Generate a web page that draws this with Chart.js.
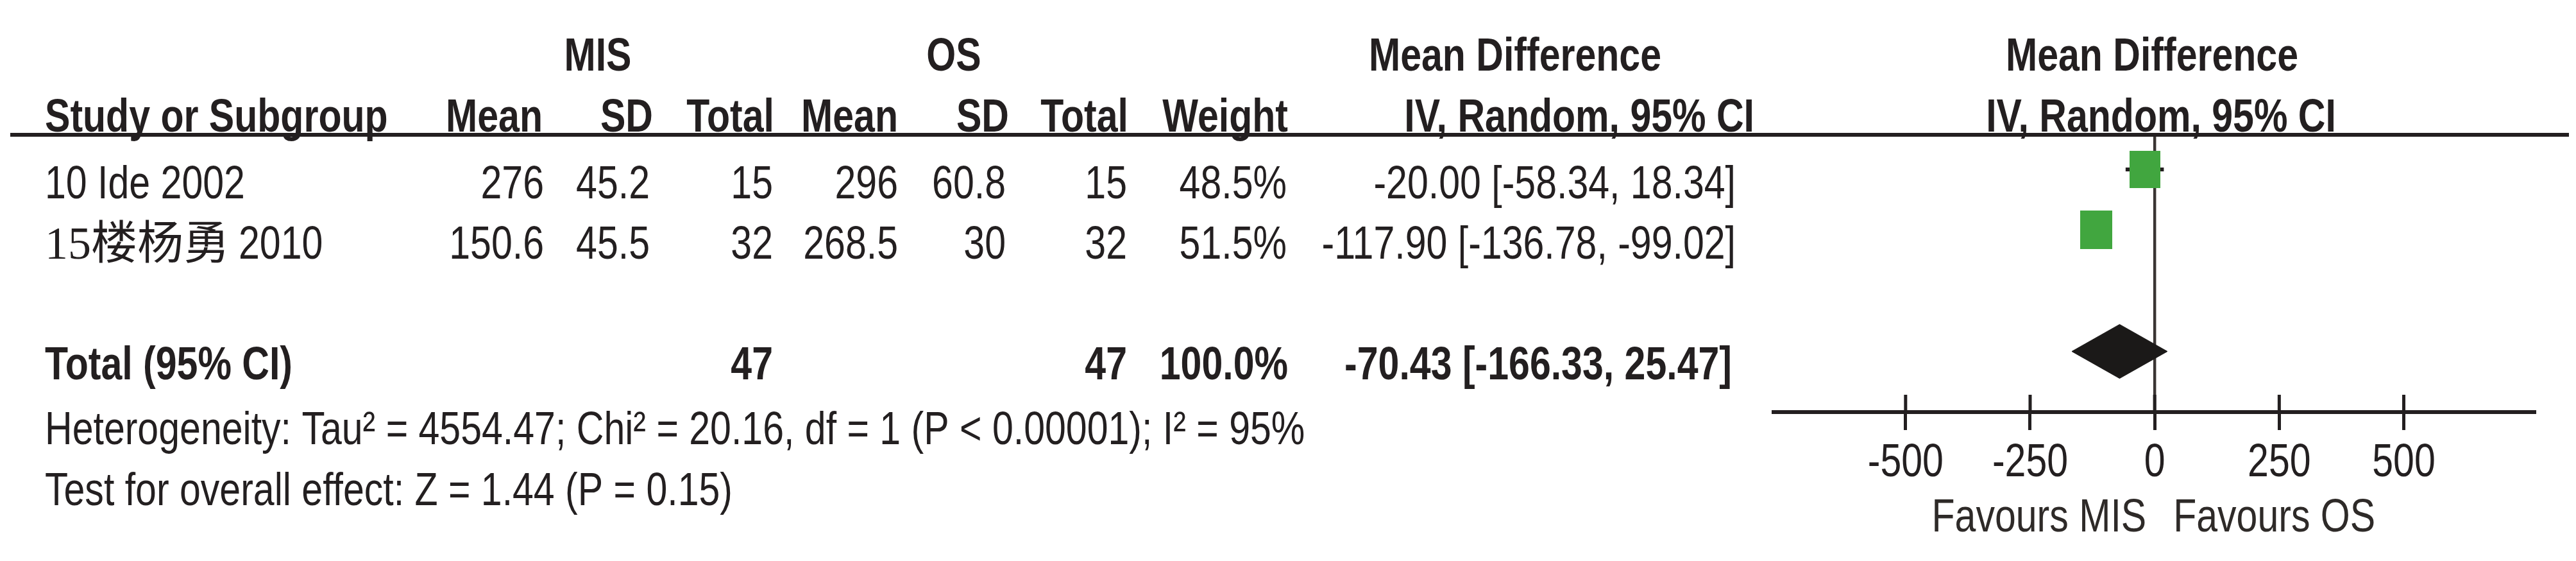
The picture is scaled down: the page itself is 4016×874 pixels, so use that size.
<!DOCTYPE html>
<html>
<head>
<meta charset="utf-8">
<title>Forest plot: MIS vs OS</title>
<script src="https://cdn.jsdelivr.net/npm/chart.js@4.4.1/dist/chart.umd.min.js"></script>
<style>
  html, body { margin: 0; padding: 0; background: #fff; }
  canvas { display: block; }
</style>
</head>
<body>
<canvas id="forest" width="4016" height="874"></canvas>
<script>
// ---- data ----
const studies = ['10 Ide 2002', '15楼杨勇2010'];
const misMean = [276, 150.6];
const misSD = [45.2, 45.5];
const misN = [15, 32];
const osMean = [296, 268.5];
const osSD = [60.8, 30];
const osN = [15, 32];
const weights = [48.5, 51.5];
const md = [-20.00, -117.90];
const ciLow = [-58.34, -136.78];
const ciHigh = [18.34, -99.02];

const totalMisN = 47;
const totalOsN = 47;
const totalWeight = 100.0;
const totalMD = -70.43;
const totalLow = -166.33;
const totalHigh = 25.47;

const tickValues = [-500, -250, 0, 250, 500];
const heterogeneity = 'Heterogeneity: Tau\u00b2 = 4554.47; Chi\u00b2 = 20.16, df = 1 (P < 0.00001); I\u00b2 = 95%';
const overallEffect = 'Test for overall effect: Z = 1.44 (P = 0.15)';
const favours = ['Favours MIS', 'Favours OS'];

// ---- look ----
const INK = '#231f20';
const GREEN = '#41a63f';
const FS = 72;

// narrow Arial look: use Liberation Sans Narrow if it is there, else squeeze Liberation Sans
const narrowOK = (function () {
  const c = document.createElement('canvas').getContext('2d');
  c.font = FS + 'px monospace';
  const a = c.measureText('Study or Subgroup 0123').width;
  c.font = FS + 'px "Liberation Sans Narrow", monospace';
  const b = c.measureText('Study or Subgroup 0123').width;
  return a !== b;
})();
const FAMILY = narrowOK ? '"Liberation Sans Narrow", "Liberation Sans", Arial, sans-serif' : '"Liberation Sans", Arial, sans-serif';
const SX = narrowOK ? 1 : 0.82;

function txt(ctx, s, x, y, align, bold, color) {
  ctx.save();
  ctx.font = (bold ? 'bold ' : '') + FS + 'px ' + FAMILY;
  ctx.fillStyle = color || INK;
  ctx.textBaseline = 'alphabetic';
  ctx.textAlign = align;
  ctx.translate(x, y);
  ctx.scale(SX, 1);
  ctx.fillText(s, 0, 0);
  ctx.restore();
}

function seg(ctx, x1, y1, x2, y2, w, color) {
  ctx.save();
  ctx.strokeStyle = color || INK;
  ctx.lineWidth = w;
  ctx.beginPath();
  ctx.moveTo(x1, y1);
  ctx.lineTo(x2, y2);
  ctx.stroke();
  ctx.restore();
}

// study label: a CJK name is set in a serif face, the year in the sans face
function studyLabel(ctx, s, x, y) {
  const m = s.match(/^(.*[\u3400-\u9fff])(.*)$/);
  if (!m) { txt(ctx, s, x, y, 'left', false); return; }
  ctx.save();
  ctx.font = FS + 'px "Liberation Serif", "Noto Sans CJK SC", serif';
  ctx.fillStyle = INK;
  ctx.textAlign = 'left';
  ctx.fillText(m[1], x, y);
  const w = ctx.measureText(m[1]).width;
  ctx.restore();
  txt(ctx, m[2], x + w + 14, y, 'left', false);
}

const fmt2 = v => v.toFixed(2);
const ciText = (e, lo, hi) => fmt2(e) + ' [' + fmt2(lo) + ', ' + fmt2(hi) + ']';

// weight -> green box drawn as point image
function boxStyle(w) {
  const h = Math.round(8.4 * Math.sqrt(w));
  const c = document.createElement('canvas');
  c.width = Math.round(h * 0.83);
  c.height = h;
  const g = c.getContext('2d');
  g.fillStyle = GREEN;
  g.fillRect(0, 0, c.width, c.height);
  return c;
}

const TOTAL_ROW = studies.length + 2;   // one blank row before the total
const DIAMOND_H = 0.445;                // half height of the diamond, in rows

const forestPlugin = {
  id: 'forestTable',
  beforeDatasetsDraw(chart) {
    const ctx = chart.ctx, xs = chart.scales.x, a = chart.chartArea;
    const x0 = xs.getPixelForValue(0);
    seg(ctx, x0, a.top, x0, a.bottom, 4.5, '#3a3533');
  },
  afterDraw(chart) {
    const ctx = chart.ctx, xs = chart.scales.x, ys = chart.scales.y, a = chart.chartArea;

    // header rule + tick marks above the axis line
    seg(ctx, 16, a.top, 4005, a.top, 6, INK);
    xs.ticks.forEach(t => {
      const px = xs.getPixelForValue(t.value);
      seg(ctx, px, a.bottom - 27, px, a.bottom, 5, INK);
      txt(ctx, String(t.value), px, a.bottom + 100, 'center', false);
    });

    // column headers
    txt(ctx, 'MIS', 932, 110, 'center', true);
    txt(ctx, 'OS', 1487, 110, 'center', true);
    txt(ctx, 'Mean Difference', 2362, 110, 'center', true);
    txt(ctx, 'Mean Difference', 3355, 110, 'center', true);
    txt(ctx, 'Study or Subgroup', 70, 205, 'left', true);
    txt(ctx, 'Mean', 846, 205, 'right', true);
    txt(ctx, 'SD', 1018, 205, 'right', true);
    txt(ctx, 'Total', 1207, 205, 'right', true);
    txt(ctx, 'Mean', 1400, 205, 'right', true);
    txt(ctx, 'SD', 1573, 205, 'right', true);
    txt(ctx, 'Total', 1759, 205, 'right', true);
    txt(ctx, 'Weight', 2008, 205, 'right', true);
    txt(ctx, 'IV, Random, 95% CI', 2735, 205, 'right', true);
    txt(ctx, 'IV, Random, 95% CI', 3369, 205, 'center', true);

    // study rows
    studies.forEach((s, i) => {
      const y = ys.getPixelForValue(i + 1) + 45;
      studyLabel(ctx, s, 70, y);
      txt(ctx, String(misMean[i]), 848, y, 'right');
      txt(ctx, String(misSD[i]), 1013, y, 'right');
      txt(ctx, String(misN[i]), 1205, y, 'right');
      txt(ctx, String(osMean[i]), 1400, y, 'right');
      txt(ctx, String(osSD[i]), 1568, y, 'right');
      txt(ctx, String(osN[i]), 1757, y, 'right');
      txt(ctx, weights[i].toFixed(1) + '%', 2006, y, 'right');
      txt(ctx, ciText(md[i], ciLow[i], ciHigh[i]), 2706, y, 'right');
    });

    // pooled row
    const yt = ys.getPixelForValue(TOTAL_ROW) + 44;
    txt(ctx, 'Total (95% CI)', 70, yt, 'left', true);
    txt(ctx, String(totalMisN), 1205, yt, 'right', true);
    txt(ctx, String(totalOsN), 1757, yt, 'right', true);
    txt(ctx, totalWeight.toFixed(1) + '%', 2008, yt, 'right', true);
    txt(ctx, ciText(totalMD, totalLow, totalHigh), 2700, yt, 'right', true);

    txt(ctx, heterogeneity, 70, 692, 'left', false);
    txt(ctx, overallEffect, 70, 787, 'left', false);

    // favours labels either side of zero
    const x0 = xs.getPixelForValue(0);
    txt(ctx, favours[0], x0 - 13, 828, 'right', false, '#2e2a28');
    txt(ctx, favours[1], x0 + 29, 828, 'left', false, '#2e2a28');
  }
};

const whiskers = studies.map((s, i) => ({
  label: s + ' CI',
  data: [{x: ciLow[i], y: i + 1}, {x: ciHigh[i], y: i + 1}],
  showLine: true,
  borderColor: INK,
  borderWidth: 6,
  pointRadius: 0,
  order: 3
}));

const boxes = {
  label: 'Studies',
  data: studies.map((s, i) => ({x: md[i], y: i + 1})),
  pointStyle: weights.map(boxStyle),
  pointRadius: 30,
  order: 1
};

const diamond = {
  label: 'Total',
  data: [
    {x: totalLow, y: TOTAL_ROW},
    {x: totalMD, y: TOTAL_ROW - DIAMOND_H},
    {x: totalHigh, y: TOTAL_ROW},
    {x: totalMD, y: TOTAL_ROW + DIAMOND_H},
    {x: totalLow, y: TOTAL_ROW}
  ],
  showLine: true,
  fill: 'shape',
  borderColor: '#1b1918',
  backgroundColor: '#1b1918',
  borderWidth: 1,
  pointRadius: 0,
  tension: 0,
  order: 2
};

const config = {
  type: 'scatter',
  data: { datasets: [boxes, diamond].concat(whiskers) },
  options: {
    responsive: false,
    animation: false,
    devicePixelRatio: 1,
    layout: { padding: { left: 2765, right: 65, top: 210, bottom: 204 } },
    plugins: {
      legend: { display: false },
      tooltip: { enabled: false }
    },
    scales: {
      x: {
        type: 'linear',
        min: -765,
        max: 762,
        afterBuildTicks: scale => { scale.ticks = tickValues.map(v => ({ value: v })); },
        grid: { display: true, drawOnChartArea: false, drawTicks: true, tickLength: 28, lineWidth: 5, color: INK },
        border: { display: true, width: 6, color: INK },
        ticks: { display: false }
      },
      y: {
        type: 'linear',
        display: false,
        reverse: true,
        min: 0.43,
        max: 5
      }
    }
  },
  plugins: [forestPlugin]
};

var forestChart = new Chart(document.getElementById('forest'), config);
</script>
</body>
</html>
